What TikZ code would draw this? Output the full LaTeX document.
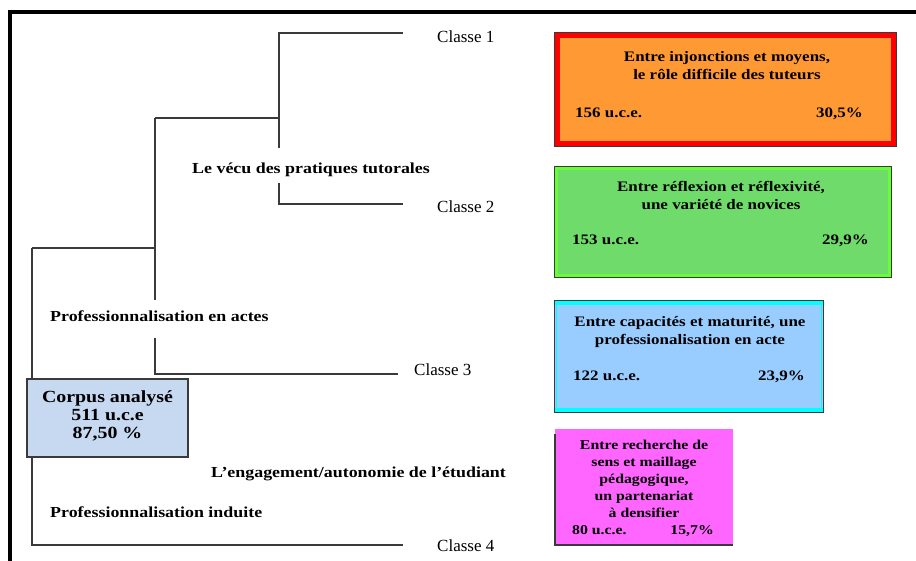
\documentclass[tikz,border=0pt]{standalone}
\usepackage{fontspec}
\setmainfont{Liberation Serif}
\newfontfamily\bsf[FakeStretch=1.17]{Liberation Serif}
\definecolor{dgray}{HTML}{3A3A3A}
\definecolor{borange}{HTML}{FF9933}
\definecolor{bgreen}{HTML}{6FDB6A}
\definecolor{ggreen}{HTML}{66FF33}
\definecolor{bblue}{HTML}{99CCFF}
\definecolor{bcyan}{HTML}{00FFFF}
\definecolor{bmag}{HTML}{FF66FF}
\definecolor{bcorp}{HTML}{C6D9F1}
\tikzset{
  dline/.style={draw=dgray, line width=1.2pt},
  lbl/.style={font=\bsf\bfseries\fontsize{15.3}{18}\selectfont, anchor=base west, inner sep=0pt},
  cls/.style={font=\fontsize{17}{20}\selectfont, anchor=base west, inner sep=0pt},
  bt/.style={font=\bsf\bfseries\fontsize{14.5}{18}\selectfont, anchor=base, inner sep=0pt},
  btl/.style={bt, anchor=base west},
  btr/.style={bt, anchor=base east},
  bt4/.style={font=\bsf\bfseries\fontsize{13.5}{17}\selectfont, anchor=base, inner sep=0pt},
  ct/.style={font=\bsf\bfseries\fontsize{17}{19}\selectfont, anchor=base, inner sep=0pt},
  cbox/.style={rectangle, inner sep=0pt, draw=dgray, line width=1.2pt},
}
\begin{document}
\begin{tikzpicture}[x=1pt,y=-1pt]
\useasboundingbox (0,0) rectangle (916,561);
% frame
\draw[black, line width=3.5pt] (916,12) -- (10,12) -- (10,561);

% dendrogram coordinates
\coordinate (c1) at (403,33);
\coordinate (c2) at (403,204);
\coordinate (c3) at (398,374);
\coordinate (c4) at (403,545);
\coordinate (a1) at (279,33);
\coordinate (a2) at (279,204);
\coordinate (a1g) at (279,148);
\coordinate (a2g) at (279,183);
\coordinate (am) at (279,118);
\coordinate (b1) at (155,118);
\coordinate (b1g) at (155,300);
\coordinate (b2g) at (155,338);
\coordinate (b2) at (155,374);
\coordinate (bm) at (155,248);
\coordinate (r1) at (32,248);
\coordinate (r2) at (32,545);

% corpus box
\node[cbox, fill=bcorp, minimum width=161pt, minimum height=78pt] (corpus) at (107.5,418) {};
\node[ct] (ct1) at (107.5,402.4) {Corpus analysé};
\node[ct] (ct2) at (107.5,420.7) {511 u.c.e};
\node[ct] (ct3) at (107.5,438.4) {87,50 \%};

\draw[dline] (c1) -- (a1) -- (a1g);
\draw[dline] (a2g) -- (a2) -- (c2);
\draw[dline] (b1) -- (am);
\draw[dline] (b1g) -- (b1);
\draw[dline] (b2g) -- (b2) -- (c3);
\draw[dline] (r1) -- (bm);
\draw[dline] (r1) -- (r1 |- corpus.north);
\draw[dline] (r1 |- corpus.south) -- (r2) -- (c4);

% labels
\node[lbl] (l1) at (192,173.3) {Le vécu des pratiques tutorales};
\node[lbl] (l2) at (50,321.7) {Professionnalisation en actes};
\node[lbl] (l3) at (211,477.7) {L’engagement/autonomie de l’étudiant};
\node[lbl] (l4) at (50,517.3) {Professionnalisation induite};

\node[cls] (k1) at (437,42.3) {Classe 1};
\node[cls] (k2) at (437,212.5) {Classe 2};
\node[cls] (k3) at (414,376) {Classe 3};
\node[cls] (k4) at (437,551) {Classe 4};

% box 1
\node[rectangle, inner sep=0pt, fill=borange, minimum width=341pt, minimum height=113pt] (bx1) at (725.5,89.5) {};
\draw[red, line width=4.5pt] ([xshift=2.8pt,yshift=-2.8pt]bx1.north west) rectangle ([xshift=-2.8pt,yshift=2.8pt]bx1.south east);
\draw[dgray, line width=1.2pt] (bx1.north west) rectangle (bx1.south east);
\node[bt] (t11) at (727,61.7) {Entre injonctions et moyens,};
\node[bt] (t12) at (727,79.7) {le rôle difficile des tuteurs};
\node[btl] (t13) at (575,118) {156 u.c.e.};
\node[btr] (t14) at (863,118) {30,5\%};

% box 2
\node[rectangle, inner sep=0pt, fill=bgreen, minimum width=336pt, minimum height=110pt] (bx2) at (723,222) {};
\draw[ggreen, line width=2.5pt] ([xshift=1.8pt,yshift=-1.8pt]bx2.north west) rectangle ([xshift=-1.8pt,yshift=1.8pt]bx2.south east);
\draw[dgray, line width=1.2pt] (bx2.north west) rectangle (bx2.south east);
\node[bt] (t21) at (721,191.2) {Entre réflexion et réflexivité,};
\node[bt] (t22) at (721,209.5) {une variété de novices};
\node[btl] (t23) at (572,245) {153 u.c.e.};
\node[btr] (t24) at (869,245) {29,9\%};

% box 3
\node[rectangle, inner sep=0pt, fill=bblue, minimum width=268pt, minimum height=111pt] (bx3) at (689,356.5) {};
\fill[bcyan] ([xshift=0.6pt,yshift=-0.6pt]bx3.north west) rectangle ([xshift=-0.6pt,yshift=-4pt]bx3.north east);
\fill[bcyan] ([xshift=0.6pt,yshift=0.6pt]bx3.south west) rectangle ([xshift=-0.6pt,yshift=4pt]bx3.south east);
\draw[bcyan, line width=1.2pt] ([xshift=1.6pt]bx3.north west) -- ([xshift=1.6pt]bx3.south west);
\draw[bcyan, line width=1.2pt] ([xshift=-1.6pt]bx3.north east) -- ([xshift=-1.6pt]bx3.south east);
\draw[dgray, line width=1.2pt] (bx3.north west) rectangle (bx3.south east);
\node[bt] (t31) at (690,326.8) {Entre capacités et maturité, une};
\node[bt] (t32) at (690,344.5) {professionalisation en acte};
\node[btl] (t33) at (573,381) {122 u.c.e.};
\node[btr] (t34) at (805,381) {23,9\%};

% box 4
\node[rectangle, inner sep=0pt, fill=bmag, minimum width=178pt, minimum height=116pt] (bx4) at (644,487) {};
\draw[dgray, line width=2pt] ([yshift=-5pt]bx4.north west) -- (bx4.south west) -- (bx4.south east);
\node[bt4] (t41) at (644,449.5) {Entre recherche de};
\node[bt4] (t42) at (644,466.2) {sens et maillage};
\node[bt4] (t43) at (644,483.8) {pédagogique,};
\node[bt4] (t44) at (644,500.5) {un partenariat};
\node[bt4] (t45) at (644,517.2) {à densifier};
\node[bt4, anchor=base west] (t46) at (572,534.5) {80 u.c.e.};
\node[bt4, anchor=base east] (t47) at (714,534.5) {15,7\%};
\end{tikzpicture}
\end{document}
